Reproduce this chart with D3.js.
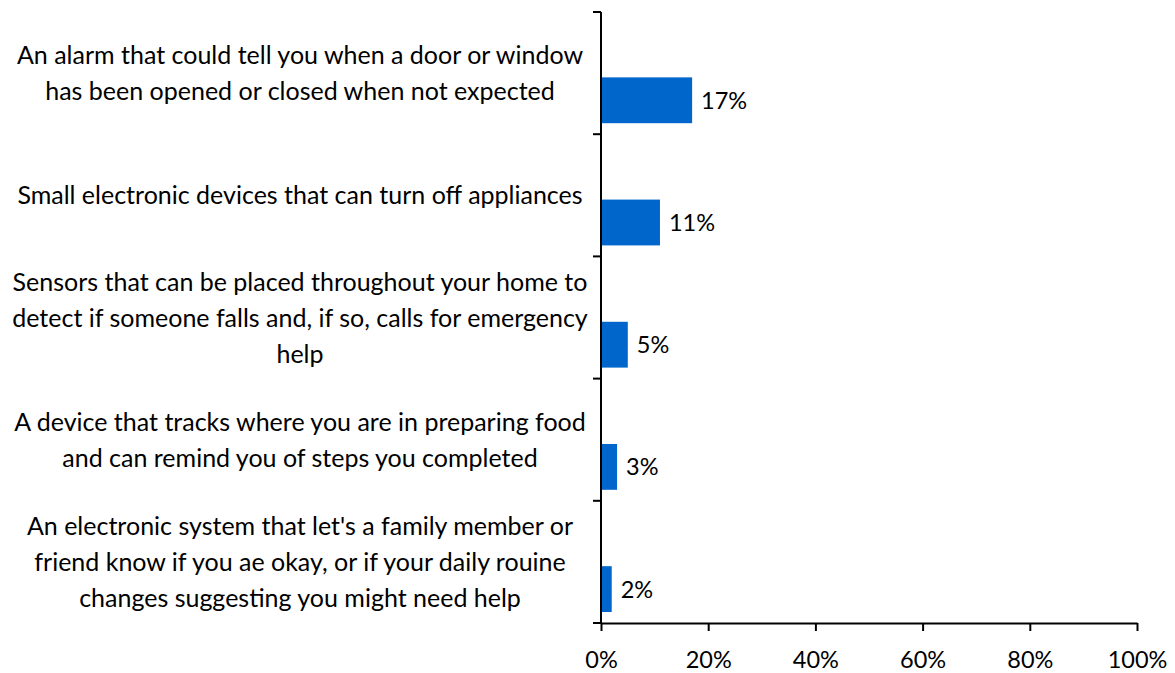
<!DOCTYPE html>
<html>
<head>
<meta charset="utf-8">
<script src="https://cdn.jsdelivr.net/npm/d3@7"></script>
<style>
  html, body { margin: 0; padding: 0; background: #fff; }
  svg text { font-family: Lato, "Open Sans", sans-serif; fill: #000; }
</style>
</head>
<body>
<svg id="chart" width="1175" height="673"></svg>
<script>
// Survey items, one entry per line of each wrapped label
const categories = [
  ["An alarm that could tell you when a door or window", "has been opened or closed when not expected"],
  ["Small electronic devices that can turn off appliances"],
  ["Sensors that can be placed throughout your home to", "detect if someone falls and, if so, calls for emergency", "help"],
  ["A device that tracks where you are in preparing food", "and can remind you of steps you completed"],
  ["An electronic system that let's a family member or", "friend know if you ae okay, or if your daily rouine", "changes suggesting you might need help"]
];
const values = [17, 11, 5, 3, 2];
const xTicks = [0, 20, 40, 60, 80, 100];

const svg = d3.select("#chart");
const plotLeft = 601, plotRight = 1137, plotTop = 12, plotBottom = 623;

const x = d3.scaleLinear().domain([0, 100]).range([plotLeft, plotRight]);
const y = d3.scaleBand().domain(d3.range(categories.length)).range([plotTop, plotBottom]).padding(0);
const bw = y.bandwidth();

// Bars sit in the lower part of each category band
svg.append("g").selectAll("rect")
  .data(values)
  .join("rect")
  .attr("x", x(0))
  .attr("y", (d, i) => y(i) + bw * 0.535)
  .attr("width", d => x(d) - x(0))
  .attr("height", bw * 0.375)
  .attr("fill", "#0066CC");

// Value labels
svg.append("g").selectAll("text")
  .data(values)
  .join("text")
  .attr("x", d => x(d) + 9)
  .attr("y", (d, i) => y(i) + bw * 0.535 + bw * 0.375 / 2)
  .attr("dy", "0.36em")
  .attr("font-size", 23.5)
  .text(d => d + "%");

// Category labels, centred on each band
const lineH = 36;
const labels = svg.append("g").selectAll("text")
  .data(categories)
  .join("text")
  .attr("text-anchor", "middle")
  .attr("font-size", 25);
labels.each(function(lines, i) {
  const cy = y(i) + bw / 2;
  const startY = cy - (lines.length - 1) * lineH / 2;
  d3.select(this).selectAll("tspan")
    .data(lines)
    .join("tspan")
    .attr("x", 300)
    .attr("y", (d, j) => startY + j * lineH)
    .attr("dy", "0.36em")
    .text(d => d);
});

// Y axis with ticks at band boundaries
const yAxis = svg.append("g");
yAxis.append("line")
  .attr("x1", plotLeft).attr("x2", plotLeft)
  .attr("y1", plotTop).attr("y2", plotBottom)
  .attr("stroke", "#000").attr("stroke-width", 2);
yAxis.selectAll("line.tick")
  .data(d3.range(categories.length + 1))
  .join("line")
  .attr("class", "tick")
  .attr("x1", plotLeft - 8).attr("x2", plotLeft)
  .attr("y1", i => i < categories.length ? y(i) : plotBottom)
  .attr("y2", i => i < categories.length ? y(i) : plotBottom)
  .attr("stroke", "#000").attr("stroke-width", 2);

// X axis
const xAxis = svg.append("g")
  .attr("transform", `translate(0,${plotBottom})`)
  .call(d3.axisBottom(x).tickValues(xTicks).tickFormat(d => d + "%").tickSize(8).tickSizeOuter(0).tickPadding(20));
xAxis.select(".domain").attr("stroke", "#000").attr("stroke-width", 2);
xAxis.selectAll(".tick line").attr("stroke", "#000").attr("stroke-width", 2);
xAxis.selectAll(".tick text")
  .attr("font-family", "Lato, 'Open Sans', sans-serif")
  .attr("font-size", 23.5)
  .attr("fill", "#000");
</script>
</body>
</html>
